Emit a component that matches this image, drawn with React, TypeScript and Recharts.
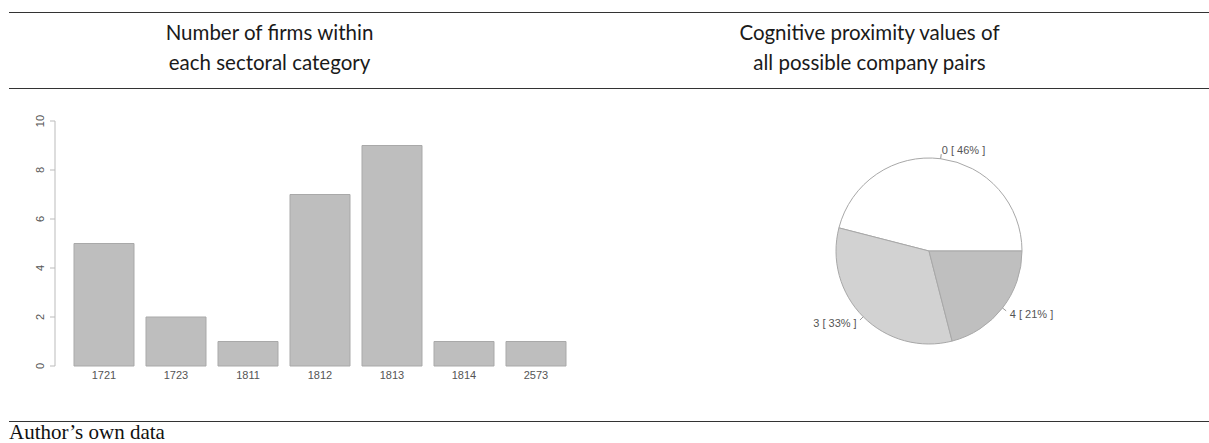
import React from "react";
import { BarChart, Bar, XAxis, YAxis, PieChart, Pie, Cell } from "recharts";

// sectoral categories and the number of firms in each
const sectors = ["1721", "1723", "1811", "1812", "1813", "1814", "2573"];
const firmCounts = [5, 2, 1, 7, 9, 1, 1];
const yTicks = [0, 2, 4, 6, 8, 10];

// cognitive proximity values over all 300 company pairs
const proximityLabels = ["0", "3", "4"];
const pairCounts = [138, 99, 63];
const sliceColors = ["#ffffff", "#d2d2d2", "#bfbfbf"];

const barData = sectors.map((s, i) => ({ sector: s, firms: firmCounts[i] }));
const pieData = proximityLabels.map((p, i) => ({ name: p, value: pairCounts[i] }));

const RAD = Math.PI / 180;
const labelFont = "'Liberation Sans', Arial, sans-serif";
const titleFont = "Lato, 'Open Sans', sans-serif";

function YTick(props: any) {
  const { x, y, payload } = props;
  return (
    <text
      x={x}
      y={y}
      transform={`rotate(-90, ${x}, ${y})`}
      textAnchor="middle"
      fill="#555"
      fontSize={11}
      fontFamily={labelFont}
    >
      {payload.value}
    </text>
  );
}

function pieLabel(props: any) {
  const { cx, cy, midAngle, outerRadius, percent, name } = props;
  const c = Math.cos(-midAngle * RAD);
  const s = Math.sin(-midAngle * RAD);
  const r1 = outerRadius;
  const r2 = outerRadius * 1.05;
  const r3 = outerRadius * 1.1;
  return (
    <g>
      <line
        x1={cx + r1 * c}
        y1={cy + r1 * s}
        x2={cx + r2 * c}
        y2={cy + r2 * s}
        stroke="#999"
        strokeWidth={1}
      />
      <text
        x={cx + r3 * c}
        y={cy + r3 * s}
        textAnchor={c >= 0 ? "start" : "end"}
        dominantBaseline="central"
        fill="#555"
        fontSize={11}
        fontFamily={labelFont}
      >
        {`${name} [ ${Math.round(percent * 100)}% ]`}
      </text>
    </g>
  );
}

const rule = (top: number): React.CSSProperties => ({
  position: "absolute",
  left: 9,
  top,
  width: 1200,
  height: 0,
  borderTop: "1.3px solid #333",
});

const title: React.CSSProperties = {
  position: "absolute",
  top: 17,
  fontFamily: titleFont,
  fontSize: 20.5,
  lineHeight: "30px",
  color: "#1a1a1a",
  textAlign: "center",
};

export default function App() {
  return (
    <div style={{ position: "absolute", left: 0, top: 0, width: 1209, height: 443, background: "#fff", overflow: "hidden" }}>
      <div style={rule(12)} />
      <div style={{ ...title, left: 9, width: 521 }}>
        Number of firms within
        <br />
        each sectoral category
      </div>
      <div style={{ ...title, left: 530, width: 679 }}>
        Cognitive proximity values of
        <br />
        all possible company pairs
      </div>
      <div style={rule(88)} />

      <div style={{ position: "absolute", left: 0, top: 100 }}>
        <BarChart width={600} height={300} data={barData} margin={{ top: 21, right: 28, left: 5, bottom: 14 }}>
          <XAxis
            dataKey="sector"
            axisLine={false}
            tickLine={false}
            tickSize={0}
            tickMargin={5}
            height={20}
            padding={{ left: 13, right: 0 }}
            tick={{ fill: "#555", fontSize: 11, fontFamily: labelFont }}
            interval={0}
          />
          <YAxis
            domain={[0, 10]}
            ticks={yTicks}
            width={50}
            axisLine={{ stroke: "#bbb" }}
            tickLine={{ stroke: "#bbb" }}
            tickSize={5}
            tickMargin={6}
            tick={<YTick />}
          />
          <Bar dataKey="firms" fill="#bebebe" stroke="#a9a9a9" strokeWidth={1} barSize={60} isAnimationActive={false} />
        </BarChart>
      </div>

      <div style={{ position: "absolute", left: 600, top: 100 }}>
        <PieChart width={609} height={300}>
          <Pie
            data={pieData}
            dataKey="value"
            nameKey="name"
            cx={324}
            cy={146}
            outerRadius={93}
            startAngle={0}
            endAngle={360}
            stroke="#a8a8a8"
            strokeWidth={1}
            label={pieLabel}
            labelLine={false}
            isAnimationActive={false}
          >
            {pieData.map((d, i) => (
              <Cell key={d.name} fill={sliceColors[i]} />
            ))}
          </Pie>
        </PieChart>
      </div>

      <div style={rule(421)} />
      <div
        style={{
          position: "absolute",
          left: 9,
          top: 422,
          fontFamily: "'Liberation Serif', 'Times New Roman', serif",
          fontSize: 21,
          lineHeight: "20px",
          color: "#111",
          whiteSpace: "nowrap",
        }}
      >
        Author’s own data
      </div>
    </div>
  );
}
